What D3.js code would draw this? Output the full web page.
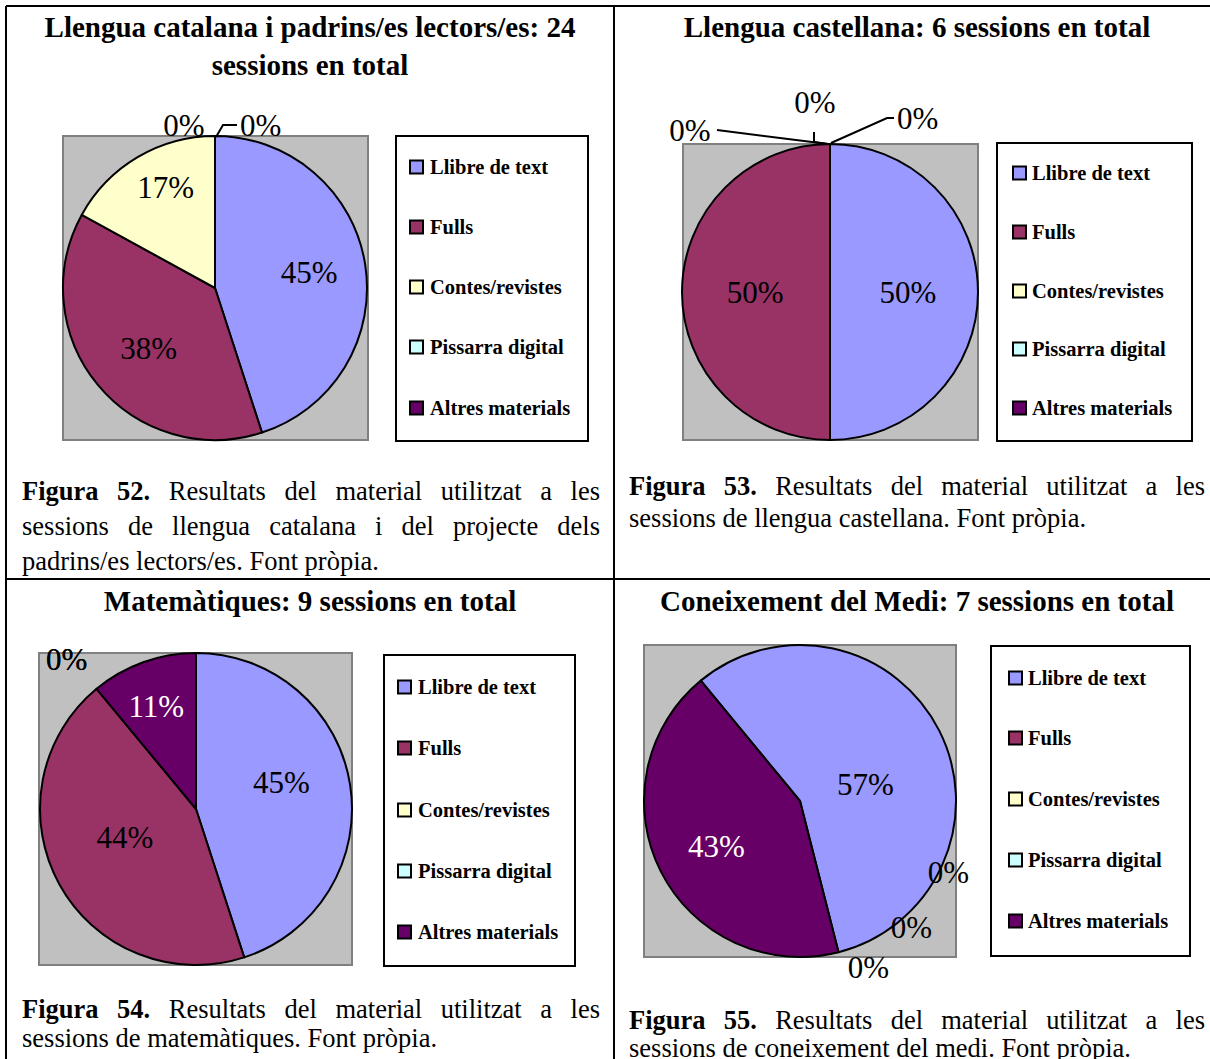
<!DOCTYPE html>
<html>
<head>
<meta charset="utf-8">
<script src="https://cdn.jsdelivr.net/npm/d3@7"></script>
<style>
  body { margin: 0; background: #fff; }
  svg { display: block; font-family: 'Liberation Serif', 'Times New Roman', serif; }
</style>
</head>
<body>
<div id="chart"></div>
<script>
// categories shared by the four pies
const categories = ['Llibre de text', 'Fulls', 'Contes/revistes', 'Pissarra digital', 'Altres materials'];
const colors = ['#9999ff', '#993366', '#ffffcc', '#ccffff', '#660066'];

// percentages as printed on each pie
const catalanValues = [45, 38, 17, 0, 0];
const castellanValues = [50, 50, 0, 0, 0];
const mathValues = [45, 44, 0, 0, 11];
const mediValues = [57, 0, 0, 0, 43];

const titles = [
  ['Llengua catalana i padrins/es lectors/es: 24', 'sessions en total'],
  ['Llengua castellana: 6 sessions en total'],
  ['Matemàtiques: 9 sessions en total'],
  ['Coneixement del Medi: 7 sessions en total'],
];
const figureLabels = ['Figura 52.', 'Figura 53.', 'Figura 54.', 'Figura 55.'];
const captionLines = [
  ['Resultats del material utilitzat a les', 'sessions de llengua catalana i del projecte dels', 'padrins/es lectors/es. Font pròpia.'],
  ['Resultats del material utilitzat a les', 'sessions de llengua castellana. Font pròpia.'],
  ['Resultats del material utilitzat a les', 'sessions de matemàtiques. Font pròpia.'],
  ['Resultats del material utilitzat a les', 'sessions de coneixement del medi. Font pròpia.'],
];

const width = 1210;
const height = 1059;

// layout of each table cell; shift = nudge of the in-slice label from the 0.6r centroid
const panels = [
  {
    values: catalanValues, titleX: 310, titleY: [37, 75],
    plot: [63, 136, 368, 440], cx: 215, cy: 288, r: 152, rotation: 0,
    shift: [[4, -2], [4, 2], [-3, -22]],
    legend: [396, 136, 588, 441], rows: [167, 227, 287, 347, 408], sqX: 410, textX: 430,
    caption: [22, 600], captionY: [500, 535, 570],
    zeros: [
      { dx: -31, dy: 0, anchor: 'middle' },
      { dx: 25, dy: 0, anchor: 'start', leader: [[1, 1], [8, -11], [22, -11]] },
    ],
  },
  {
    values: castellanValues, titleX: 917, titleY: [37],
    plot: [683, 144, 978, 440], cx: 830, cy: 292, r: 148, rotation: 0,
    shift: [[-11, 0], [14, 0]],
    legend: [997, 143, 1192, 441], rows: [173, 232, 291, 349, 408], sqX: 1013, textX: 1032,
    caption: [629, 1205], captionY: [495, 527],
    zeros: [
      { dx: -140, dy: -3, anchor: 'middle', leader: [[-2, 0], [-113, -14]] },
      { dx: -15, dy: -31, anchor: 'middle', leader: [[-2, 0], [-16, -2], [-16, -12]] },
      { dx: 67, dy: -15, anchor: 'start', leader: [[1, -1], [57, -26], [64, -26]] },
    ],
  },
  {
    values: mathValues, titleX: 310, titleY: [611],
    plot: [39, 653, 352, 965], cx: 196, cy: 809, r: 156, rotation: 0,
    shift: [[-7, -12], [11, -17], [0, 0], [0, 0], [-8, -15]],
    legend: [384, 655, 575, 966], rows: [687, 748, 810, 871, 932], sqX: 398, textX: 418,
    caption: [22, 600], captionY: [1018, 1047],
    zeros: [
      { dx: -30, dy: -19, anchor: 'middle' },
      { dx: -30, dy: -19, anchor: 'middle' },
    ],
  },
  {
    values: mediValues, titleX: 917, titleY: [611],
    plot: [644, 645, 956, 957], cx: 800, cy: 801, r: 156, rotation: 320.5,
    shift: [[-18, 25], [0, 0], [0, 0], [0, 0], [0, 3]],
    legend: [991, 646, 1190, 956], rows: [678, 738, 799, 860, 921], sqX: 1009, textX: 1028,
    caption: [629, 1205], captionY: [1029, 1057],
    zeros: [
      { dx: 30, dy: 26, anchor: 'middle' },
      { dx: 73, dy: -14, anchor: 'middle' },
      { dx: 110, dy: -69, anchor: 'middle' },
    ],
  },
];

const svg = d3
  .select('#chart')
  .append('svg')
  .attr('width', width)
  .attr('height', height);

svg.append('rect').attr('width', width).attr('height', height).attr('fill', '#fff');

const pie = d3.pie().sort(null).value(d => d);

panels.forEach((p, i) => {
  const g = svg.append('g');

  // title
  titles[i].forEach((line, k) => {
    g.append('text')
      .attr('x', p.titleX)
      .attr('y', p.titleY[k])
      .attr('text-anchor', 'middle')
      .attr('font-size', '29px')
      .attr('font-weight', 'bold')
      .text(line);
  });

  // grey plot area
  g.append('rect')
    .attr('x', p.plot[0])
    .attr('y', p.plot[1])
    .attr('width', p.plot[2] - p.plot[0])
    .attr('height', p.plot[3] - p.plot[1])
    .attr('fill', '#c0c0c0')
    .attr('stroke', '#808080')
    .attr('stroke-width', 2);

  const rot = (p.rotation * Math.PI) / 180;
  const arcs = pie.startAngle(rot).endAngle(rot + 2 * Math.PI)(p.values);
  const arc = d3.arc().innerRadius(0).outerRadius(p.r);
  const labelArc = d3.arc().innerRadius(0).outerRadius(p.r * 1.2);

  const pieG = g.append('g').attr('transform', `translate(${p.cx}, ${p.cy})`);
  pieG
    .selectAll('path')
    .data(arcs.filter(d => d.value > 0))
    .enter()
    .append('path')
    .attr('d', arc)
    .attr('fill', d => colors[d.index])
    .attr('stroke', '#000')
    .attr('stroke-width', 2)
    .attr('stroke-linejoin', 'round');

  // labels inside the slices
  pieG
    .selectAll('text.pct')
    .data(arcs.filter(d => d.value > 0))
    .enter()
    .append('text')
    .attr('class', 'pct')
    .attr('transform', d => {
      const c = labelArc.centroid(d);
      const s = p.shift[d.index] || [0, 0];
      return `translate(${c[0] + s[0]}, ${c[1] + s[1]})`;
    })
    .attr('dy', '0.35em')
    .attr('text-anchor', 'middle')
    .attr('font-size', '31px')
    .attr('fill', d => (d.index === 4 ? '#fff' : '#000'))
    .text(d => d.value + '%');

  // 0% labels outside the pie
  arcs.filter(d => d.value === 0).forEach((d, k) => {
    const z = p.zeros[k];
    const ax = Math.sin(d.startAngle) * p.r;
    const ay = -Math.cos(d.startAngle) * p.r;
    if (z.leader) {
      pieG.append('path')
        .attr('d', d3.line()(z.leader.map(pt => [ax + pt[0], ay + pt[1]])))
        .attr('fill', 'none')
        .attr('stroke', '#000')
        .attr('stroke-width', 2);
    }
    pieG.append('text')
      .attr('x', ax + z.dx)
      .attr('y', ay + z.dy)
      .attr('text-anchor', z.anchor)
      .attr('font-size', '31px')
      .text(d.value + '%');
  });

  // legend
  g.append('rect')
    .attr('x', p.legend[0])
    .attr('y', p.legend[1])
    .attr('width', p.legend[2] - p.legend[0])
    .attr('height', p.legend[3] - p.legend[1])
    .attr('fill', '#fff')
    .attr('stroke', '#000')
    .attr('stroke-width', 2);
  categories.forEach((c, k) => {
    g.append('rect')
      .attr('x', p.sqX)
      .attr('y', p.rows[k] - 6.5)
      .attr('width', 13)
      .attr('height', 13)
      .attr('fill', colors[k])
      .attr('stroke', '#000')
      .attr('stroke-width', 2);
    g.append('text')
      .attr('x', p.textX)
      .attr('y', p.rows[k] + 7)
      .attr('font-size', '20.5px')
      .attr('font-weight', 'bold')
      .text(c);
  });

  // caption, justified except the last line
  const lines = captionLines[i];
  lines.forEach((line, k) => {
    let words = line.split(' ').map(t => ({ t, bold: false }));
    if (k === 0) {
      words = figureLabels[i].split(' ').map(t => ({ t, bold: true })).concat(words);
    }
    const y = p.captionY[k];
    if (k === lines.length - 1) {
      g.append('text')
        .attr('x', p.caption[0])
        .attr('y', y)
        .attr('font-size', '26.5px')
        .text(line);
      return;
    }
    const nodes = words.map(w =>
      g.append('text')
        .attr('y', y)
        .attr('font-size', '26.5px')
        .attr('font-weight', w.bold ? 'bold' : 'normal')
        .text(w.t),
    );
    const widths = nodes.map(n => n.node().getComputedTextLength());
    const total = d3.sum(widths);
    const gap = (p.caption[1] - p.caption[0] - total) / (nodes.length - 1);
    let x = p.caption[0];
    nodes.forEach((n, j) => {
      n.attr('x', x);
      x += widths[j] + gap;
    });
  });
});

// table grid
const grid = [
  [6, 6, width, 6],
  [6, 579, width, 579],
  [6, 6, 6, height],
  [614, 6, 614, height],
];
svg.selectAll('line.grid')
  .data(grid)
  .enter()
  .append('line')
  .attr('class', 'grid')
  .attr('x1', d => d[0])
  .attr('y1', d => d[1])
  .attr('x2', d => d[2])
  .attr('y2', d => d[3])
  .attr('stroke', '#000')
  .attr('stroke-width', 2);
</script>
</body>
</html>
